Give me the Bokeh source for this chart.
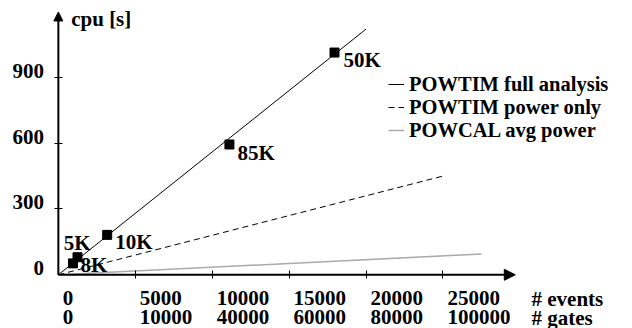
from bokeh.plotting import figure
from bokeh.models import (LinearAxis, FixedTicker, Arrow, NormalHead, Label,
                          Legend, LegendItem, Range1d, ColumnDataSource)
from bokeh.core.properties import value
from bokeh.embed import file_html
from bokeh.resources import INLINE

# ---------------- data ----------------
event_ticks = [0, 5000, 10000, 15000, 20000, 25000]
event_tick_labels = ["0", "5000", "10000", "15000", "20000", "25000"]
gate_tick_labels = ["0", "10000", "40000", "60000", "80000", "100000"]
cpu_ticks = [0, 300, 600, 900]
cpu_tick_labels = ["0", "300", "600", "900"]

full_events = [0, 20000]
full_cpu = [0, 1120]
power_events = [0, 25000]
power_cpu = [0, 450]
avg_events = [0, 27500]
avg_cpu = [0, 95]

series_names = ["POWTIM full analysis", "POWTIM power only", "POWCAL avg power"]

circuit_names = ["8K", "5K", "10K", "85K", "50K"]
circuit_events = [950, 1245, 3175, 11120, 17950]
circuit_cpu = [52, 80, 182, 594, 1013]

x_axis_end = 29700
y_axis_end = 1198

# ---------------- style ----------------
FONT_NAME = "Liberation Serif"
FONT = value(FONT_NAME)
FS = "21px"
LEGEND_FS = "20.5px"
label_dx = [7.5, -13.7, 8, 8, 9]
label_dy = [1.2, -14.7, 7, 8.5, 7.5]
legend_rows_y = [231, 208, 185]   # screen px (bottom of each legend row)

p = figure(width=632, height=328, output_backend="svg", toolbar_location=None,
           x_range=Range1d(-3760, 37319), y_range=Range1d(-244.8, 1250.2),
           x_axis_location=None, y_axis_location=None, min_border=0,
           outline_line_color=None, background_fill_color="white",
           border_fill_color="white")
p.grid.visible = False

# axes (ticks only; lines drawn as arrows)
xaxis = LinearAxis(fixed_location=0, ticker=FixedTicker(ticks=event_ticks[1:]))
yaxis = LinearAxis(fixed_location=0, ticker=FixedTicker(ticks=cpu_ticks[1:]))
for ax in (xaxis, yaxis):
    ax.axis_line_color = None
    ax.major_tick_in = 4
    ax.major_tick_out = 4
    ax.major_tick_line_color = "black"
    ax.major_tick_line_width = 1
    ax.minor_tick_line_color = None
    ax.major_label_text_color = None
p.add_layout(xaxis, "below")
p.add_layout(yaxis, "left")

p.add_layout(Arrow(end=NormalHead(size=11, fill_color="black", line_color="black", line_width=1),
                   x_start=0, y_start=0, x_end=x_axis_end, y_end=0,
                   line_color="black", line_width=2))
p.add_layout(Arrow(end=NormalHead(size=9, fill_color="black", line_color="black", line_width=1),
                   x_start=0, y_start=0, x_end=0, y_end=y_axis_end,
                   line_color="black", line_width=2))

# series
r_full = p.line(full_events, full_cpu, line_color="black", line_width=1)
r_power = p.line(power_events, power_cpu, line_color="black", line_width=1, line_dash="6 4")
r_avg = p.line(avg_events, avg_cpu, line_color="#aaaaaa", line_width=1.5)

pts = ColumnDataSource(dict(x=circuit_events, y=circuit_cpu, name=circuit_names,
                            dx=label_dx, dy=label_dy))
p.scatter("x", "y", source=pts, marker="square", size=9, fill_color="black", line_color="black")
p.text("x", "y", text="name", source=pts, x_offset="dx", y_offset="dy",
       text_font=FONT, text_font_style="bold", text_font_size=FS,
       text_align="left", text_baseline="middle", text_color="black")

# tick labels
xt = ColumnDataSource(dict(x=event_ticks, y=[0] * len(event_ticks),
                           ev=event_tick_labels, gt=gate_tick_labels))
p.text("x", "y", text="ev", source=xt, x_offset=4.5, y_offset=23.7,
       text_font=FONT, text_font_style="bold", text_font_size=FS,
       text_align="left", text_baseline="middle", text_color="black")
p.text("x", "y", text="gt", source=xt, x_offset=4.5, y_offset=42.7,
       text_font=FONT, text_font_style="bold", text_font_size=FS,
       text_align="left", text_baseline="middle", text_color="black")
yt = ColumnDataSource(dict(x=[0] * len(cpu_ticks), y=cpu_ticks, t=cpu_tick_labels))
p.text("x", "y", text="t", source=yt, x_offset=-14.3, y_offset=-6.5,
       text_font=FONT, text_font_style="bold", text_font_size=FS,
       text_align="right", text_baseline="middle", text_color="black")

# axis titles
for txt, sx, sy in (("cpu [s]", 70.7, 310), ("# events", 531, 30), ("# gates", 531, 11)):
    p.add_layout(Label(x=sx, y=sy, x_units="screen", y_units="screen", text=txt,
                       text_font=FONT_NAME, text_font_style="bold", text_font_size=FS,
                       text_baseline="middle", text_align="left", text_color="black"))

# legend (one row per entry so the row pitch can be set exactly)
for name, rend, ly in zip(series_names, (r_full, r_power, r_avg), legend_rows_y):
    lg = Legend(items=[LegendItem(label=name, renderers=[rend])],
                location=(388, ly), orientation="vertical",
                glyph_width=16, glyph_height=26, label_height=26, spacing=0,
                padding=0, margin=0, label_standoff=5,
                border_line_color=None, background_fill_alpha=0,
                label_text_font=FONT_NAME, label_text_font_style="bold",
                label_text_font_size=LEGEND_FS, label_text_color="black")
    p.add_layout(lg)

open("out.html", "w").write(file_html(p, INLINE))
